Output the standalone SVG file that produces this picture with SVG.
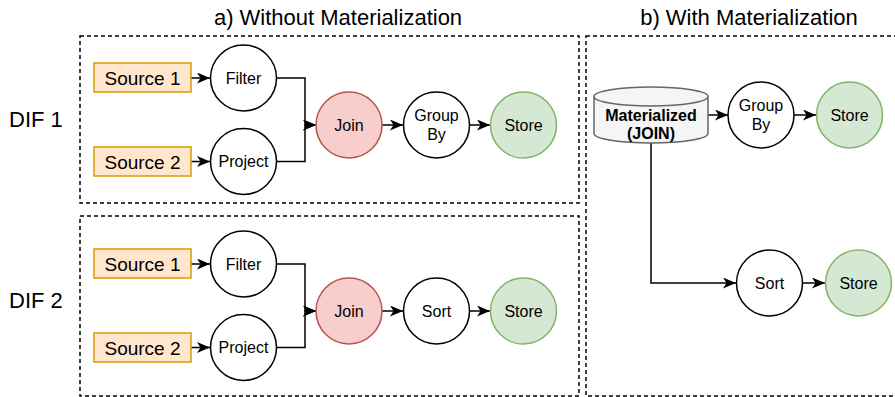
<svg xmlns="http://www.w3.org/2000/svg" width="895" height="397" viewBox="0 0 895 397">
  <style>
    .frame { fill: none; stroke: #000; stroke-width: 1.5; stroke-dasharray: 4 3; }
    .title { font-family: "Liberation Sans", Arial, sans-serif; font-size: 22px; fill: #000; text-anchor: middle; }
    .dif { font-family: "Liberation Sans", Arial, sans-serif; font-size: 22px; fill: #000; }
    .src { fill: #ffe6cc; stroke: #d79b00; stroke-width: 1.5; }
    .op { fill: #fff; stroke: #000; stroke-width: 1.5; }
    .join { fill: #f8cecc; stroke: #b85450; stroke-width: 1.5; }
    .store { fill: #d5e8d4; stroke: #82b366; stroke-width: 1.5; }
    .db { fill: #f5f5f5; stroke: #666; stroke-width: 1.5; }
    .lbl { font-family: "Liberation Sans", Arial, sans-serif; font-size: 16px; fill: #000; text-anchor: middle; }
    .lbl-src { font-family: "Liberation Sans", Arial, sans-serif; font-size: 19px; fill: #000; text-anchor: middle; }
    .lbl-db { font-family: "Liberation Sans", Arial, sans-serif; font-size: 16px; font-weight: bold; fill: #000; text-anchor: middle; }
    .edge { fill: none; stroke: #000; stroke-width: 1.5; marker-end: url(#arrow); }
  </style>
  <defs>
    <!-- swept arrowhead, tip placed on the target outline -->
    <marker id="arrow" markerUnits="userSpaceOnUse" viewBox="0 0 13 11" refX="13" refY="5.5" markerWidth="13" markerHeight="11" orient="auto">
      <path d="M0,0 L13,5.5 L0,11 L3.5,5.5 Z" fill="#000"/>
    </marker>
  </defs>

  <!-- section titles -->
  <text class="title" x="338" y="25">a) Without Materialization</text>
  <text class="title" x="749" y="25">b) With Materialization</text>

  <!-- dashed frames -->
  <rect class="frame" x="80" y="36" width="499" height="167"/>
  <rect class="frame" x="80" y="216" width="499" height="180"/>
  <rect class="frame" x="586" y="36" width="320" height="360"/>

  <text class="dif" x="9" y="127">DIF 1</text>
  <text class="dif" x="9" y="308">DIF 2</text>

  <!-- connectors -->
  <g id="connectors">
    <path class="edge" d="M191,78 L210,78"/>
    <path class="edge" d="M191,161.5 L210,161.5"/>
    <path class="edge" d="M277,78 L305,78 L305,125 L316,125"/>
    <path class="edge" d="M277,161.5 L305,161.5 L305,125 L316,125"/>
    <path class="edge" d="M382,125 L403,125"/>
    <path class="edge" d="M470,125 L490,125"/>

    <path class="edge" d="M191,264 L210,264"/>
    <path class="edge" d="M191,347.5 L210,347.5"/>
    <path class="edge" d="M277,264 L305,264 L305,311 L316,311"/>
    <path class="edge" d="M277,347.5 L305,347.5 L305,311 L316,311"/>
    <path class="edge" d="M382,311 L403,311"/>
    <path class="edge" d="M470,311 L490,311"/>

    <path class="edge" d="M708,115 L728,115"/>
    <path class="edge" d="M794,115 L816,115"/>
    <path class="edge" d="M651,143 L651,283 L736,283"/>
    <path class="edge" d="M803,283 L825,283"/>
  </g>

  <!-- DIF 1 -->
  <g id="dif1-source1"><rect class="src" x="94" y="63" width="97" height="29"/><text class="lbl-src" x="142.5" y="84.5">Source 1</text></g>
  <g id="dif1-source2"><rect class="src" x="94" y="147" width="97" height="29"/><text class="lbl-src" x="142.5" y="168.5">Source 2</text></g>
  <g id="dif1-filter"><circle class="op" cx="243.5" cy="78" r="33"/><text class="lbl" x="243.5" y="83.5">Filter</text></g>
  <g id="dif1-project"><circle class="op" cx="243.5" cy="161.5" r="33"/><text class="lbl" x="243.5" y="167">Project</text></g>
  <g id="dif1-join"><circle class="join" cx="349" cy="125" r="33"/><text class="lbl" x="349" y="130.5">Join</text></g>
  <g id="dif1-groupby"><circle class="op" cx="436.5" cy="125" r="33"/><text class="lbl" x="436.5" y="121">Group</text><text class="lbl" x="436.5" y="140">By</text></g>
  <g id="dif1-store"><circle class="store" cx="523.5" cy="125" r="33"/><text class="lbl" x="523.5" y="130.5">Store</text></g>

  <!-- DIF 2 -->
  <g id="dif2-source1"><rect class="src" x="94" y="249" width="97" height="29"/><text class="lbl-src" x="142.5" y="270.5">Source 1</text></g>
  <g id="dif2-source2"><rect class="src" x="94" y="333" width="97" height="29"/><text class="lbl-src" x="142.5" y="354.5">Source 2</text></g>
  <g id="dif2-filter"><circle class="op" cx="243.5" cy="264" r="33"/><text class="lbl" x="243.5" y="269.5">Filter</text></g>
  <g id="dif2-project"><circle class="op" cx="243.5" cy="347.5" r="33"/><text class="lbl" x="243.5" y="353">Project</text></g>
  <g id="dif2-join"><circle class="join" cx="349" cy="311" r="33"/><text class="lbl" x="349" y="316.5">Join</text></g>
  <g id="dif2-sort"><circle class="op" cx="436.5" cy="311" r="33"/><text class="lbl" x="436.5" y="316.5">Sort</text></g>
  <g id="dif2-store"><circle class="store" cx="523.5" cy="311" r="33"/><text class="lbl" x="523.5" y="316.5">Store</text></g>

  <!-- materialized branch -->
  <g id="materialized">
    <path class="db" d="M594,96.5 A57,9.5 0 0 1 708,96.5 L708,133.5 A57,9.5 0 0 1 594,133.5 Z"/>
    <path class="db" style="fill:none" d="M594,96.5 A57,9.5 0 0 0 708,96.5"/>
    <text class="lbl-db" x="651" y="120.5">Materialized</text>
    <text class="lbl-db" x="651" y="139">(JOIN)</text>
  </g>
  <g id="mat-groupby"><circle class="op" cx="761" cy="115" r="33"/><text class="lbl" x="761" y="111">Group</text><text class="lbl" x="761" y="130">By</text></g>
  <g id="mat-store1"><circle class="store" cx="849.5" cy="115" r="33"/><text class="lbl" x="849.5" y="120.5">Store</text></g>
  <g id="mat-sort"><circle class="op" cx="769.5" cy="283" r="33"/><text class="lbl" x="769.5" y="288.5">Sort</text></g>
  <g id="mat-store2"><circle class="store" cx="858.5" cy="283" r="33"/><text class="lbl" x="858.5" y="288.5">Store</text></g>
</svg>
